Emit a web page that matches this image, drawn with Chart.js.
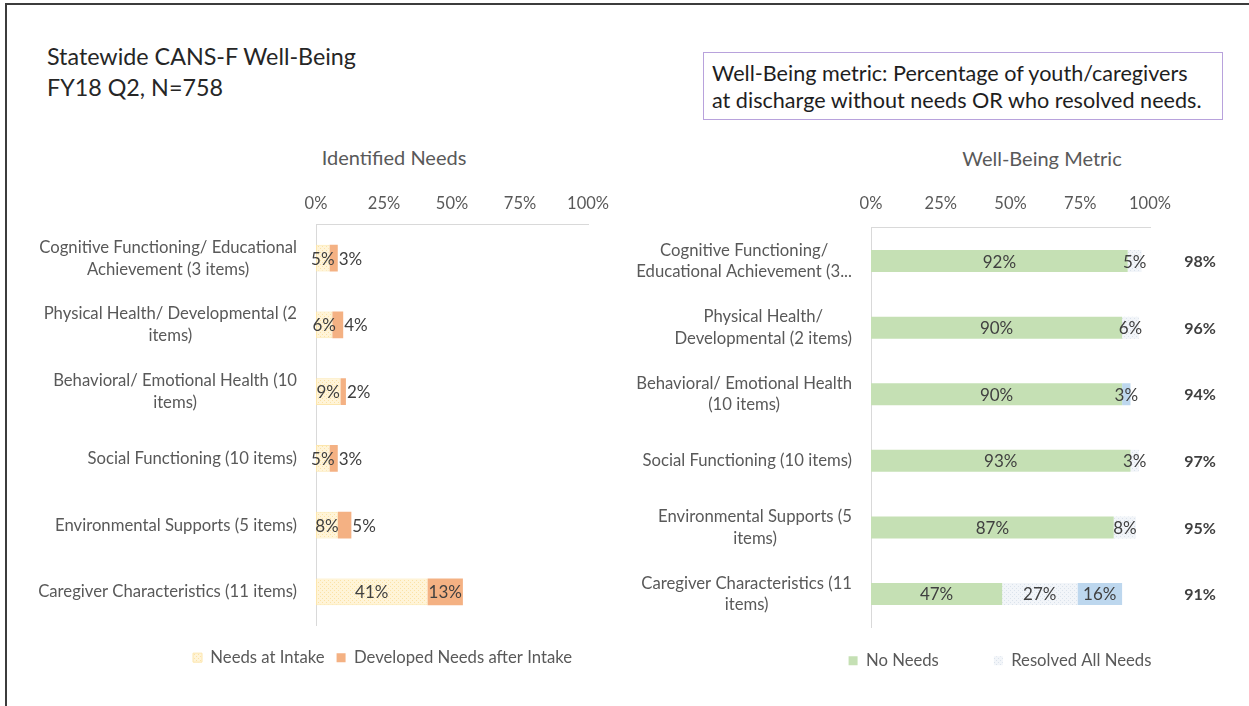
<!DOCTYPE html>
<html>
<head>
<meta charset="utf-8">
<script src="https://cdn.jsdelivr.net/npm/chart.js@4.4.1/dist/chart.umd.min.js"></script>
<style>
  html, body { margin:0; padding:0; background:#fff; }
  body { width:1249px; height:706px; overflow:hidden; position:relative; font-family: Lato, "Liberation Sans", sans-serif; }
  #frame { position:absolute; left:5px; top:3px; width:1400px; height:900px; border-left:2px solid #3c3c3c; border-top:2px solid #3c3c3c; }
  #title { position:absolute; left:47px; top:41px; font-size:23.3px; line-height:31px; color:#262626; }
  #note { position:absolute; left:703px; top:52px; width:520px; height:68px; box-sizing:border-box; border:1.5px solid #b8a2dc; padding:7px 0 0 8px; font-size:21.6px; line-height:27px; color:#1e1e1e; white-space:nowrap; }
  .sub { position:absolute; font-size:20px; color:#595959; transform:translate(-50%,-50%); white-space:nowrap; }
  #leftWrap { position:absolute; left:0; top:140px; width:620px; height:540px; }
  #rightWrap { position:absolute; left:620px; top:140px; width:629px; height:569px; }
</style>
</head>
<body>
<div id="frame"></div>
<div id="title">Statewide CANS-F Well-Being<br>FY18 Q2, N=758</div>
<div id="note">Well-Being metric: Percentage of youth/caregivers<br>at discharge without needs OR who resolved needs.</div>
<div class="sub" style="left:394px; top:157px;">Identified Needs</div>
<div class="sub" style="left:1042px; top:158px;">Well-Being Metric</div>
<div id="leftWrap"><canvas id="leftChart"></canvas></div>
<div id="rightWrap"><canvas id="rightChart"></canvas></div>
<script>
// ---------- data ----------
const needsCategories = [
  ["Cognitive Functioning/ Educational", "Achievement (3 items)"],
  ["Physical Health/ Developmental (2", "items)"],
  ["Behavioral/ Emotional Health (10", "items)"],
  ["Social Functioning (10 items)"],
  ["Environmental Supports (5 items)"],
  ["Caregiver Characteristics (11 items)"]
];
const wellBeingCategories = [
  ["Cognitive Functioning/", "Educational Achievement (3..."],
  ["Physical Health/", "Developmental (2 items)"],
  ["Behavioral/ Emotional Health", "(10 items)"],
  ["Social Functioning (10 items)"],
  ["Environmental Supports (5", "items)"],
  ["Caregiver Characteristics (11", "items)"]
];
const needsAtIntake      = [5, 6, 9, 5, 8, 41];
const developedNeeds     = [3, 4, 2, 3, 5, 13];
const noNeeds            = [92, 90, 90, 93, 87, 47];
const resolvedAllNeeds   = [5, 6, 0, 3, 8, 27];
const resolvedSomeNeeds  = [0, 0, 3, 0, 0, 16];
const wellBeingTotals    = [98, 96, 94, 97, 95, 91];
const percentTicks       = [0, 25, 50, 75, 100];

// ---------- helpers ----------
const FONT = 'Lato, "Liberation Sans", sans-serif';
function makePattern(base, dot) {
  const c = document.createElement('canvas');
  c.width = 4; c.height = 4;
  const g = c.getContext('2d');
  g.fillStyle = base; g.fillRect(0, 0, 4, 4);
  g.fillStyle = dot; g.fillRect(0, 0, 1, 1); g.fillRect(2, 2, 1, 1);
  return g.createPattern(c, 'repeat');
}
const intakePattern   = makePattern('#fff4d8', '#fbe2a6');
const resolvedPattern = makePattern('#f2f5f9', '#dbe3ec');

const catLabels = {
  id: 'catLabels',
  afterDraw(chart, args, opts) {
    const ys = chart.scales.y, ctx = chart.ctx;
    ctx.save();
    ctx.font = opts.size + 'px ' + FONT;
    ctx.fillStyle = '#595959';
    ctx.textAlign = 'center';
    ctx.textBaseline = 'middle';
    chart.data.labels.forEach((lab, i) => {
      const lines = Array.isArray(lab) ? lab : [lab];
      const w = Math.max(...lines.map(l => ctx.measureText(l).width));
      const cx = chart.chartArea.left - opts.gap - w / 2;
      const yc = ys.getPixelForValue(i);
      lines.forEach((l, j) => ctx.fillText(l, cx, yc + (j - (lines.length - 1) / 2) * opts.lineHeight));
    });
    ctx.restore();
  }
};
const valueLabels = {
  id: 'valueLabels',
  afterDatasetsDraw(chart, args, opts) {
    const ctx = chart.ctx;
    ctx.save();
    ctx.font = opts.size + 'px ' + FONT;
    ctx.fillStyle = '#404040';
    ctx.textBaseline = 'middle';
    chart.data.datasets.forEach((ds, di) => {
      const meta = chart.getDatasetMeta(di);
      if (meta.hidden) return;
      meta.data.forEach((bar, i) => {
        const v = ds.data[i];
        if (!v) return;
        const txt = v + '%';
        const barW = Math.abs(bar.x - bar.base);
        if (opts.shiftSmall && di > 0 && ctx.measureText(txt).width > barW) {
          ctx.textAlign = 'left';
          ctx.fillText(txt, Math.max(bar.x, bar.base) + 1, bar.y + 1);
        } else {
          ctx.textAlign = 'center';
          ctx.fillText(txt, (bar.x + bar.base) / 2, bar.y + 1);
        }
      });
    });
    ctx.restore();
  }
};
const totals = {
  id: 'totals',
  afterDatasetsDraw(chart, args, opts) {
    if (!opts.values) return;
    const ctx = chart.ctx, ys = chart.scales.y;
    ctx.save();
    ctx.font = 'bold 16px ' + FONT;
    ctx.fillStyle = '#404040';
    ctx.textAlign = 'center';
    ctx.textBaseline = 'middle';
    opts.values.forEach((v, i) => ctx.fillText(v + '%', chart.chartArea.right + opts.offset, ys.getPixelForValue(i) + 1));
    ctx.restore();
  }
};
const legendShift = {
  id: 'legendShift',
  afterLayout(chart, args, opts) {
    const lg = chart.legend;
    if (!lg) return;
    if (opts.dy) { lg.top += opts.dy; lg.bottom += opts.dy; }
    if (opts.dx) { lg.left += opts.dx; lg.right += opts.dx; }
  }
};

function baseOptions(cfg) {
  return {
    indexAxis: 'y',
    responsive: true,
    maintainAspectRatio: false,
    animation: false,
    events: [],
    layout: { padding: cfg.padding },
    scales: {
      x: {
        position: 'top',
        stacked: true,
        min: 0, max: 100,
        afterBuildTicks: s => { s.ticks = percentTicks.map(v => ({ value: v })); },
        ticks: { callback: v => v + '%', color: '#595959', font: { size: 16.5, family: FONT }, padding: cfg.tickPad },
        grid: { display: false, drawTicks: false },
        border: { display: true, color: '#d9d9d9', width: 1 }
      },
      y: {
        stacked: true,
        ticks: { display: false },
        grid: { display: false, drawTicks: false },
        border: { display: true, color: '#d9d9d9', width: 1 },
        afterFit: s => { s.width = cfg.yWidth; }
      }
    },
    plugins: {
      tooltip: { enabled: false },
      legend: {
        position: 'bottom',
        labels: {
          boxWidth: 9, boxHeight: 9, padding: cfg.legendPad,
          color: '#595959', font: { size: 16.7, family: FONT },
          filter: item => item.text !== 'Resolved Some Needs'
        }
      },
      legendShift: { dx: cfg.legendDx, dy: cfg.legendDy },
      catLabels: { size: 16.7, gap: 19, lineHeight: cfg.lineHeight },
      valueLabels: { size: 17, shiftSmall: cfg.shiftSmall },
      totals: cfg.totals || {}
    }
  };
}

new Chart(document.getElementById('leftChart'), {
  type: 'bar',
  data: {
    labels: needsCategories,
    datasets: [
      { label: 'Needs at Intake', data: needsAtIntake, backgroundColor: intakePattern, borderColor: '#fce6ad', borderWidth: 1, borderSkipped: false, barPercentage: 0.4, categoryPercentage: 1 },
      { label: 'Developed Needs after Intake', data: developedNeeds, backgroundColor: '#f4b183', borderWidth: 0, barPercentage: 0.4, categoryPercentage: 1 }
    ]
  },
  options: baseOptions({ padding: { left: 150, right: 30, top: 43, bottom: 16 }, yWidth: 166, tickPad: 11, legendPad: 12, legendDx: 12.5, legendDy: 12, lineHeight: 22, shiftSmall: true }),
  plugins: [catLabels, valueLabels, legendShift]
});

new Chart(document.getElementById('rightChart'), {
  type: 'bar',
  data: {
    labels: wellBeingCategories,
    datasets: [
      { label: 'No Needs', data: noNeeds, backgroundColor: '#c5e0b4', borderWidth: 0, barPercentage: 0.33, categoryPercentage: 1 },
      { label: 'Resolved All Needs', data: resolvedAllNeeds, backgroundColor: resolvedPattern, borderWidth: 0, barPercentage: 0.33, categoryPercentage: 1 },
      { label: 'Resolved Some Needs', data: resolvedSomeNeeds, backgroundColor: '#bdd7ee', borderWidth: 0, barPercentage: 0.33, categoryPercentage: 1 }
    ]
  },
  options: baseOptions({ padding: { left: 60, right: 99, top: 40, bottom: 0 }, yWidth: 191, tickPad: 14, legendPad: 55, legendDx: 85, legendDy: -30, lineHeight: 21.5, shiftSmall: false, totals: { values: wellBeingTotals, offset: 50 } }),
  plugins: [catLabels, valueLabels, totals, legendShift]
});
</script>
</body>
</html>
